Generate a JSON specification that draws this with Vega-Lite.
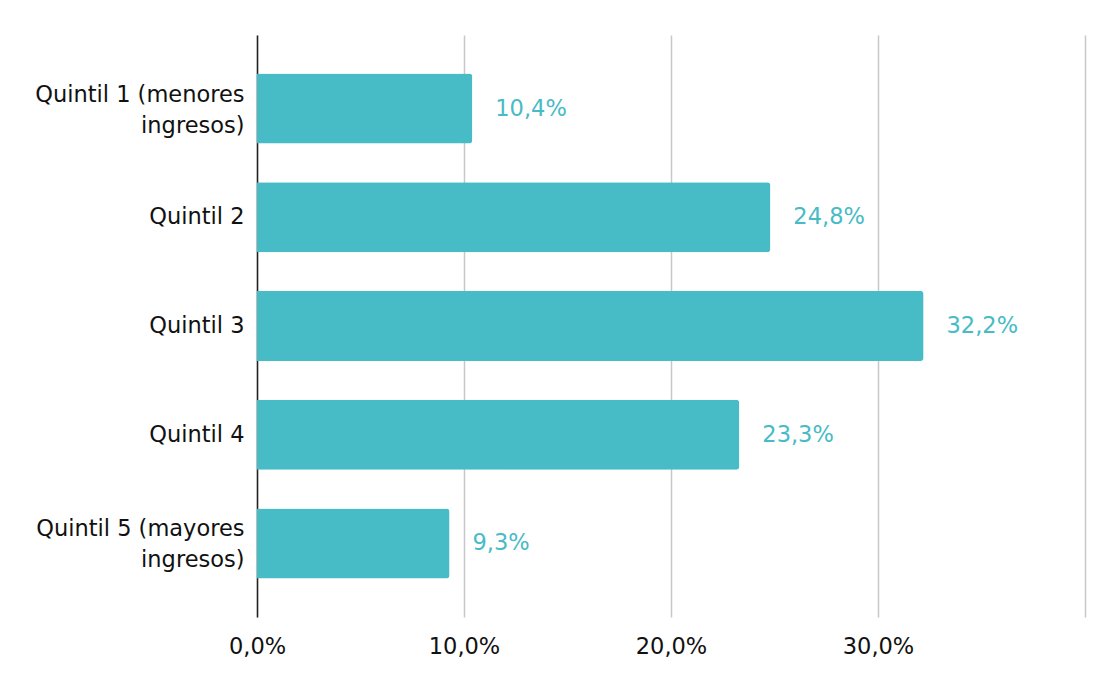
{
  "$schema": "https://vega.github.io/schema/vega-lite/v6.json",
  "autosize": "none",
  "width": 828,
  "height": 582,
  "padding": {"left": 257, "top": 35, "right": 35, "bottom": 76},
  "background": "white",
  "data": {
    "values": [
      {"quintil": "Quintil 1 (menores|ingresos)", "pct": 10.4},
      {"quintil": "Quintil 2", "pct": 24.8},
      {"quintil": "Quintil 3", "pct": 32.2},
      {"quintil": "Quintil 4", "pct": 23.3},
      {"quintil": "Quintil 5 (mayores|ingresos)", "pct": 9.3}
    ]
  },
  "encoding": {
    "y": {
      "field": "quintil",
      "type": "nominal",
      "sort": null,
      "title": null,
      "scale": {"paddingInner": 0.356, "paddingOuter": 0.354},
      "axis": {
        "labelExpr": "split(datum.label, '|')",
        "labelOffset": {"expr": "indexof(datum.label, '|') >= 0 ? -14 : 0"},
        "domainColor": "#222222",
        "domainWidth": 1.5,
        "ticks": false,
        "labelPadding": 13,
        "labelLineHeight": 31
      }
    },
    "x": {
      "field": "pct",
      "type": "quantitative",
      "title": null,
      "scale": {"domain": [0, 40], "nice": false},
      "axis": {
        "values": [0, 10, 20, 30, 40],
        "labelExpr": "datum.value >= 40 ? '' : replace(format(datum.value, '.1f'), '.', ',') + '%'",
        "labelFlush": false,
        "domain": false,
        "ticks": false,
        "labelPadding": 18,
        "gridColor": "#c8c8c8",
        "gridWidth": 1.5
      }
    }
  },
  "layer": [
    {
      "mark": {"type": "bar", "color": "#47bbc6", "cornerRadiusEnd": 3}
    },
    {
      "transform": [
        {"calculate": "replace(format(datum.pct, '.1f'), '.', ',') + '%'", "as": "etiqueta"}
      ],
      "mark": {"type": "text", "align": "left", "baseline": "middle", "dx": 23, "color": "#47bbc6", "fontSize": 22.5, "font": "DejaVu Sans"},
      "encoding": {
        "text": {"field": "etiqueta", "type": "nominal"}
      }
    }
  ],
  "config": {
    "view": {"stroke": null},
    "axis": {
      "labelFont": "DejaVu Sans",
      "labelFontSize": 22.5,
      "labelColor": "#111111",
      "labelLimit": 400
    }
  }
}
